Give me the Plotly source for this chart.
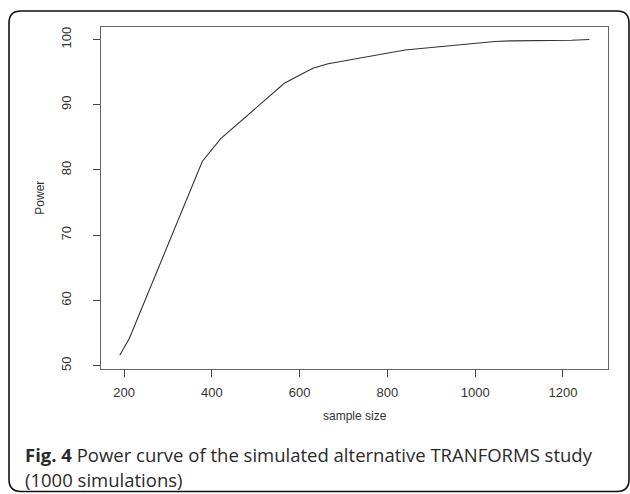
import plotly.graph_objects as go

# Data
sample_size = [190, 212, 378, 420, 565, 630, 665, 840, 1045, 1080, 1220, 1260]
power = [51.6, 54.2, 81.3, 84.8, 93.3, 95.6, 96.3, 98.4, 99.7, 99.8, 99.9, 100.0]
x_ticks = [200, 400, 600, 800, 1000, 1200]
y_ticks = [50, 60, 70, 80, 90, 100]

W, H = 630, 494
# plot area in pixels
L, R, T, B = 101, 608, 27, 370

def px(x):
    return x / W

def py(y):
    return 1 - y / H

fig = go.Figure()
fig.add_trace(go.Scatter(
    x=sample_size, y=power, mode="lines",
    line=dict(color="#333333", width=1.1),
    hoverinfo="x+y", showlegend=False,
))

axis_common = dict(
    showgrid=False, zeroline=False,
    showline=True, mirror=True, linecolor="#666666", linewidth=1,
    ticks="outside", ticklen=7, tickcolor="#444444", tickwidth=1,
    tickfont=dict(family="Liberation Sans, Arial, sans-serif", size=13, color="#333333"),
)

fig.update_layout(
    width=W, height=H,
    margin=dict(l=0, r=0, t=0, b=0),
    paper_bgcolor="white", plot_bgcolor="white",
    xaxis=dict(
        domain=[px(L), px(R)], range=[147.2, 1302.8],
        tickvals=x_ticks, ticktext=[str(v) for v in x_ticks],
        ticklabelstandoff=5,
        **axis_common,
    ),
    yaxis=dict(
        domain=[py(B), py(T)], range=[49.56, 101.94],
        tickvals=y_ticks, ticktext=[str(v) for v in y_ticks],
        tickangle=-90, ticklabelstandoff=17,
        **axis_common,
    ),
)

# Axis titles
fig.add_annotation(
    x=(L + R) / 2 / W, y=py(418), xref="paper", yref="paper",
    text="sample size", showarrow=False,
    font=dict(family="Liberation Sans, Arial, sans-serif", size=12, color="#333333"),
    xanchor="center", yanchor="middle",
)
fig.add_annotation(
    x=px(40), y=py((T + B) / 2), xref="paper", yref="paper",
    text="Power", showarrow=False, textangle=-90,
    font=dict(family="Liberation Sans, Arial, sans-serif", size=12, color="#333333"),
    xanchor="center", yanchor="middle",
)

# Caption
cap_font = dict(family="Open Sans, Noto Sans, sans-serif", size=18.5, color="#2a2a2a")
fig.add_annotation(
    x=px(23), y=py(456), xref="paper", yref="paper",
    text="<b>Fig. 4</b> Power curve of the simulated alternative TRANFORMS study",
    showarrow=False, font=cap_font, xanchor="left", yanchor="middle",
)
fig.add_annotation(
    x=px(23), y=py(481), xref="paper", yref="paper",
    text="(1000 simulations)",
    showarrow=False, font=cap_font, xanchor="left", yanchor="middle",
)

# Rounded outer frame
x0, x1, y0, y1, r = 9, 629, 11, 493.5, 12
path = (
    f"M {px(x0 + r)},{py(y0)} L {px(x1 - r)},{py(y0)} "
    f"Q {px(x1)},{py(y0)} {px(x1)},{py(y0 + r)} "
    f"L {px(x1)},{py(y1 - r)} Q {px(x1)},{py(y1)} {px(x1 - r)},{py(y1)} "
    f"L {px(x0 + r)},{py(y1)} Q {px(x0)},{py(y1)} {px(x0)},{py(y1 - r)} "
    f"L {px(x0)},{py(y0 + r)} Q {px(x0)},{py(y0)} {px(x0 + r)},{py(y0)} Z"
)
fig.add_shape(type="path", path=path, xref="paper", yref="paper",
              line=dict(color="#111111", width=1.6), fillcolor="rgba(0,0,0,0)")

fig.write_html("out.html")
